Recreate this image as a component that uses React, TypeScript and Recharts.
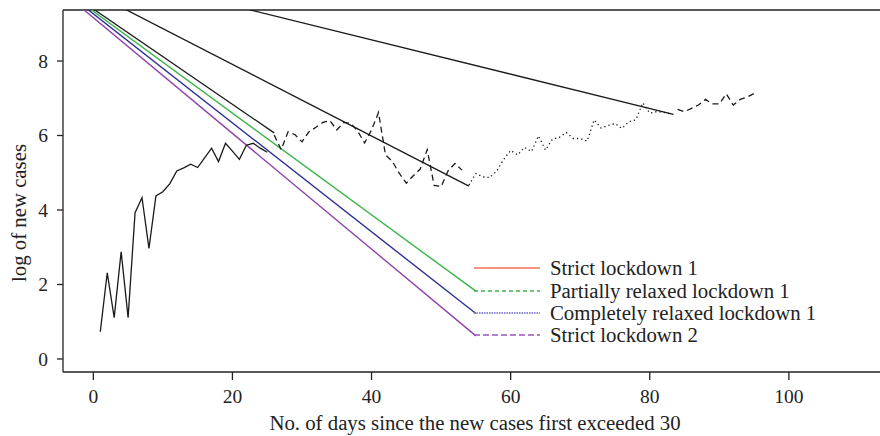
import React from 'react';
import { ComposedChart, Line, XAxis, YAxis, ReferenceLine, Legend, Label } from 'recharts';

// log of daily new cases, one array per lockdown phase
const strict1Start = 1;
const strict1Cases = [0.73, 2.31, 1.11, 2.88, 1.11, 3.93, 4.33, 2.97, 4.38, 4.49, 4.71, 5.05, 5.13, 5.23, 5.14, 5.4, 5.66, 5.3, 5.79, 5.58, 5.36, 5.74, 5.79, 5.66, 5.55];
const partial1Start = 26;
const partial1Cases = [6.01, 5.62, 6.1, 6.02, 5.83, 6.1, 6.22, 6.35, 6.4, 6.15, 6.35, 6.33, 6.12, 5.8, 6.15, 6.62, 5.48, 5.3, 4.98, 4.72, 4.92, 5.1, 5.62, 4.66, 4.63, 5.05, 5.25, 5.07];
const relaxed1Start = 54;
const relaxed1Cases = [4.67, 4.98, 4.89, 4.87, 5.05, 5.36, 5.6, 5.48, 5.68, 5.57, 5.99, 5.61, 5.9, 5.95, 6.08, 5.92, 5.92, 5.85, 6.42, 6.2, 6.27, 6.32, 6.19, 6.37, 6.42, 6.88, 6.6, 6.64, 6.62, 6.58];
const strict2Start = 84;
const strict2Cases = [6.7, 6.64, 6.73, 6.82, 6.97, 6.85, 6.85, 7.12, 6.82, 6.97, 7.03, 7.13];

// fitted lines, [day, log cases] at each end
const fitStrict1 = [[-4, 9.91], [26, 6.07]];
const fitPartial1 = [[0, 9.83], [54, 4.64]];
const fitRelaxed1 = [[20, 9.49], [83.4, 6.57]];
const projGreen = [[-2, 9.61], [55, 1.82]];
const projBlue = [[-2, 9.56], [55, 1.22]];
const projPurple = [[-3, 9.63], [55, 0.62]];

const xTicks = [0, 20, 40, 60, 80, 100];
const yTicks = [0, 2, 4, 6, 8];
const X_MIN = -4.36;
const X_MAX = 113.1;
const Y_MIN = -0.35;
const Y_MAX = 9.37;

const legendItems = [
  { label: 'Strict lockdown 1', color: '#ee6f5a', dash: undefined },
  { label: 'Partially relaxed lockdown 1', color: '#3cb44b', dash: '4 3' },
  { label: 'Completely relaxed lockdown 1', color: '#6a62c8', dash: '1.5 1' },
  { label: 'Strict lockdown 2', color: '#9a55b8', dash: '6 3' },
];

const FONT = '"Liberation Serif", "DejaVu Serif", serif';
const INK = '#222';

const toPoints = (start: number, values: number[]) =>
  values.map((value, i) => ({ day: start + i, value }));
const toSegment = (pairs: number[][]) => pairs.map(([day, value]) => ({ day, value }));

const renderLegend = () => (
  <div style={{ fontFamily: FONT, fontSize: 20.8, color: INK }}>
    {legendItems.map((item) => (
      <div key={item.label} style={{ display: 'flex', alignItems: 'center', height: 22.4 }}>
        <svg width={66} height={6} style={{ display: 'block' }}>
          <line x1={0} y1={3} x2={66} y2={3} stroke={item.color} strokeWidth={1.6} strokeDasharray={item.dash} />
        </svg>
        <span style={{ marginLeft: 10, whiteSpace: 'nowrap', lineHeight: '22px' }}>{item.label}</span>
      </div>
    ))}
  </div>
);

const App: React.FC = () => {
  const tick = { fill: INK, fontSize: 19.5, fontFamily: FONT };
  const dataLine = { stroke: '#1a1a1a', strokeWidth: 1.3, dot: false, isAnimationActive: false, type: 'linear' as const };

  return (
    <div style={{ position: 'absolute', left: 0, top: 0, width: 880, height: 436, background: '#fff' }}>
      <ComposedChart width={880} height={436} margin={{ top: 10, right: 0, bottom: 0, left: 0 }}>
        <XAxis
          type="number"
          dataKey="day"
          domain={[X_MIN, X_MAX]}
          allowDataOverflow
          ticks={xTicks}
          tick={tick}
          tickSize={8}
          tickMargin={9}
          height={64}
          stroke={INK}
          strokeWidth={1.3}
        >
          <Label
            content={() => (
              <text x={475} y={430} textAnchor="middle" fontFamily={FONT} fontSize={20.8} fill={INK}>
                No. of days since the new cases first exceeded 30
              </text>
            )}
          />
        </XAxis>
        <YAxis
          type="number"
          domain={[Y_MIN, Y_MAX]}
          allowDataOverflow
          ticks={yTicks}
          tick={tick}
          tickSize={6}
          tickMargin={9}
          width={63}
          stroke={INK}
          strokeWidth={1.3}
        >
          <Label
            content={() => (
              <text x={18} y={213} transform="rotate(-90 18 213)" textAnchor="middle" dominantBaseline="central" fontFamily={FONT} fontSize={20.8} fill={INK}>
                log of new cases
              </text>
            )}
          />
        </YAxis>
        <ReferenceLine y={Y_MAX} stroke={INK} strokeWidth={1.3} />

        <Line data={toSegment(projGreen)} dataKey="value" stroke="#3cb44b" strokeWidth={1.4} dot={false} isAnimationActive={false} />
        <Line data={toSegment(projBlue)} dataKey="value" stroke="#2e2f96" strokeWidth={1.4} dot={false} isAnimationActive={false} />
        <Line data={toSegment(projPurple)} dataKey="value" stroke="#8e44ad" strokeWidth={1.4} dot={false} isAnimationActive={false} />

        <Line data={toSegment(fitStrict1)} dataKey="value" {...dataLine} />
        <Line data={toSegment(fitPartial1)} dataKey="value" {...dataLine} />
        <Line data={toSegment(fitRelaxed1)} dataKey="value" {...dataLine} />

        <Line data={toPoints(strict1Start, strict1Cases)} dataKey="value" {...dataLine} />
        <Line data={toPoints(partial1Start, partial1Cases)} dataKey="value" {...dataLine} strokeDasharray="6 4" />
        <Line data={toPoints(relaxed1Start, relaxed1Cases)} dataKey="value" {...dataLine} strokeDasharray="1.3 3" />
        <Line data={toPoints(strict2Start, strict2Cases)} dataKey="value" {...dataLine} strokeDasharray="6 4" />

        <Legend
          layout="vertical"
          align="center"
          verticalAlign="middle"
          wrapperStyle={{ left: 474, top: 257, width: 'auto', height: 'auto' }}
          content={renderLegend}
        />
      </ComposedChart>
    </div>
  );
};

export default App;
